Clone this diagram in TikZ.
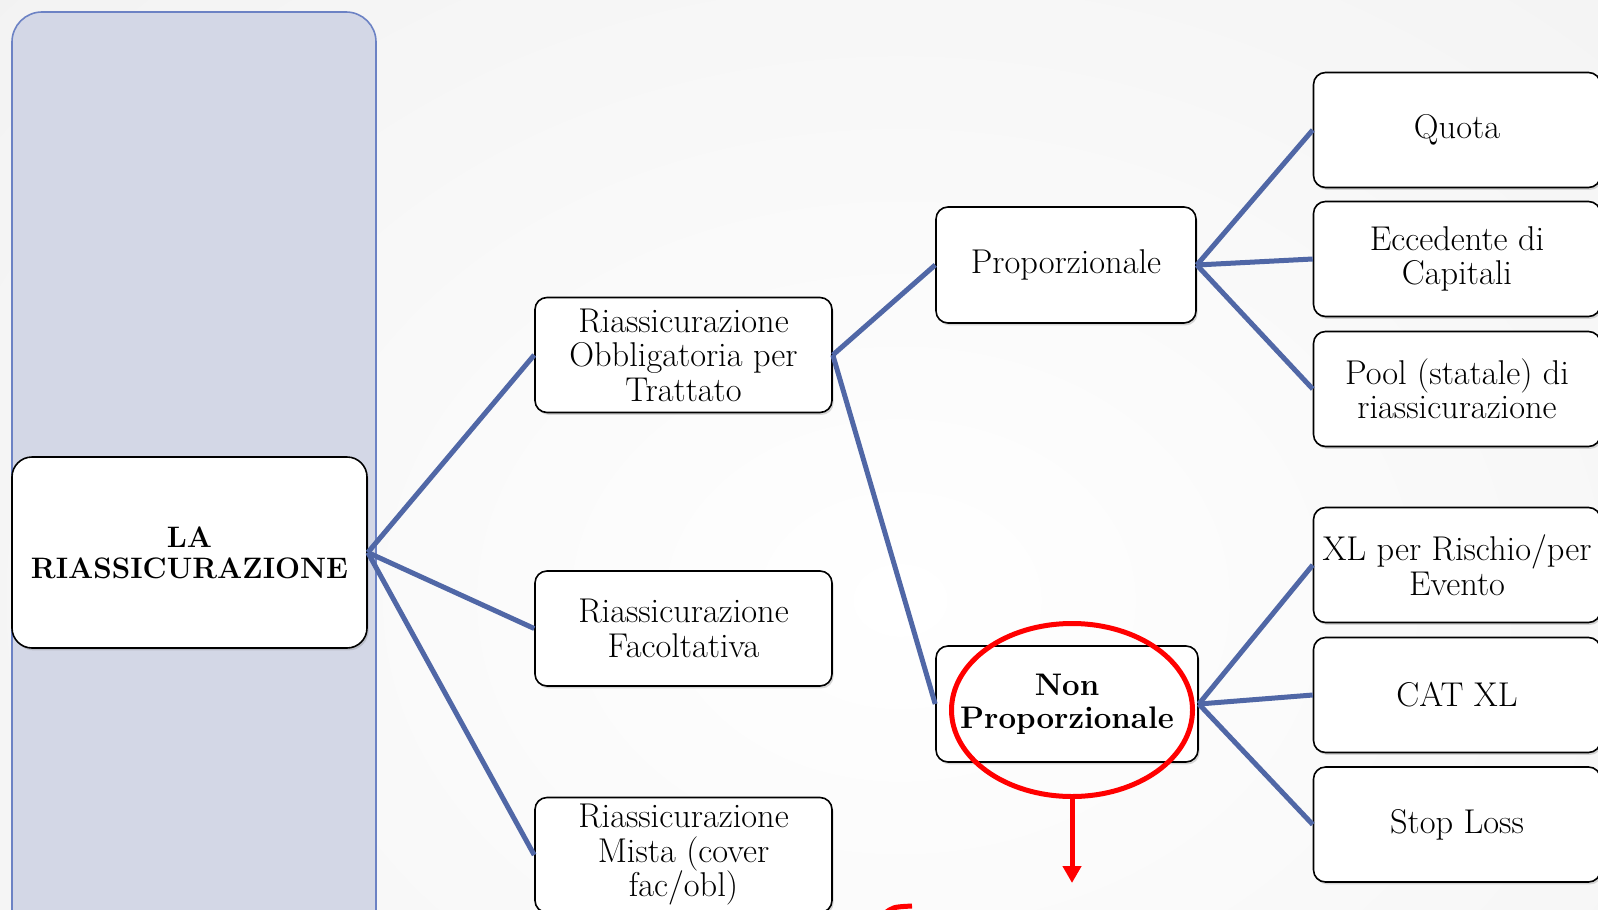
\documentclass[tikz,border=0pt]{standalone}
\usetikzlibrary{shapes.geometric,shadows,arrows.meta}
\definecolor{linkblue}{RGB}{80,103,166}
\definecolor{panelfill}{RGB}{211,215,230}
\definecolor{paneldraw}{RGB}{108,130,196}
\definecolor{markred}{RGB}{255,0,0}
\tikzset{
  box/.style={draw, line width=0.8pt, fill=white, rounded corners=6pt, align=center, inner sep=0pt,
    font=\fontsize{17.2}{17.25}\selectfont,
    drop shadow={opacity=0.3, shadow xshift=0.8pt, shadow yshift=-1.2pt}},
  midbox/.style={box, minimum width=148.5pt, minimum height=57.5pt},
  leafbox/.style={box, minimum width=143.5pt, minimum height=57.5pt},
  link/.style={draw=linkblue, line width=2.5pt}
}
\begin{document}
\begin{tikzpicture}[x=0.5pt,y=-0.5pt]
  \useasboundingbox (0,0) rectangle (1598,909);
  \clip (0,0) rectangle (1598,909);
  \shade[inner color=white, outer color=black!10] (-1500,-1250) rectangle (3300,2450);
  % side panel
  \draw[fill=panelfill, draw=paneldraw, line width=0.8pt, rounded corners=15pt] (12,12) rectangle (376,960);

  \node[box, minimum width=177.5pt, minimum height=95.5pt, rounded corners=10pt,
        font=\fontsize{14.8}{15.5}\selectfont\bfseries] (root) at (189.5,552.5) {LA\\RIASSICURAZIONE};

  \node[midbox] (obl) at (683.5,355) {Riassicurazione\\Obbligatoria per\\Trattato};
  \node[midbox] (fac) at (683.5,628.5) {Riassicurazione\\Facoltativa};
  \node[midbox] (mista) at (683.5,855) {Riassicurazione\\Mista (cover\\fac/obl)};

  \node[box, minimum width=130pt, minimum height=58pt] (prop) at (1066,265) {Proporzionale};
  \node[box, minimum width=131pt, minimum height=58pt,
        font=\fontsize{15.6}{16.5}\selectfont\bfseries] (nonprop) at (1067,704) {Non\\Proporzionale};

  \node[leafbox] (quota) at (1457,130) {Quota};
  \node[leafbox] (ecc) at (1457,259) {Eccedente di\\Capitali};
  \node[leafbox] (pool) at (1457,389) {Pool (statale) di\\riassicurazione};
  \node[leafbox] (xl) at (1457,565) {XL per Rischio/per\\Evento};
  \node[leafbox] (cat) at (1457,695) {CAT XL};
  \node[leafbox] (stop) at (1457,824.5) {Stop Loss};

  % connectors
  \foreach \n in {obl,fac,mista}
    \draw[link] (root.east) -- (\n.west);
  \foreach \n in {prop,nonprop}
    \draw[link] (obl.east) -- (\n.west);
  \foreach \n in {quota,ecc,pool}
    \draw[link] (prop.east) -- (\n.west);
  \foreach \n in {xl,cat,stop}
    \draw[link] (nonprop.east) -- (\n.west);

  % red mark
  \node[draw=markred, line width=2.5pt, ellipse, inner sep=0pt,
        minimum width=120.5pt, minimum height=86.5pt] (ring) at (1072,710) {};
  \coordinate (tip) at (1072,883);
  \draw[markred, line width=2.5pt, -{Triangle[width=9pt,length=8.5pt]}] (ring.south) -- (tip);
  \draw[markred, line width=2.5pt] (884,914) .. controls (893,907) .. (912,906);
\end{tikzpicture}
\end{document}
